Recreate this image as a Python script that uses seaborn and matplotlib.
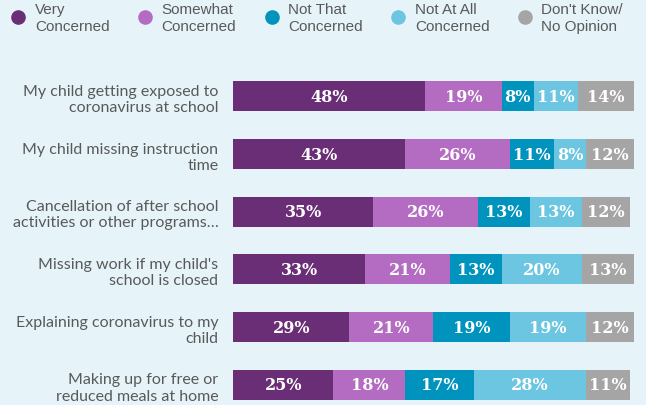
import matplotlib
matplotlib.use("Agg")
import matplotlib.pyplot as plt
import seaborn as sns
import pandas as pd
from matplotlib.lines import Line2D

categories = [
    "My child getting exposed to\ncoronavirus at school",
    "My child missing instruction\ntime",
    "Cancellation of after school\nactivities or other programs…",
    "Missing work if my child's\nschool is closed",
    "Explaining coronavirus to my\nchild",
    "Making up for free or\nreduced meals at home",
]
series_names = ["Very\nConcerned", "Somewhat\nConcerned", "Not That\nConcerned",
                "Not At All\nConcerned", "Don't Know/\nNo Opinion"]
very = [48, 43, 35, 33, 29, 25]
somewhat = [19, 26, 26, 21, 21, 18]
not_that = [8, 11, 13, 13, 19, 17]
not_at_all = [11, 8, 13, 20, 19, 28]
dont_know = [14, 12, 12, 13, 12, 11]
colors = ["#6A2E76", "#B46CC3", "#0093BE", "#6CC6E1", "#A5A5A5"]

bg = "#E6F4FA"
sns.set_style("white")
fig = plt.figure(figsize=(6.46, 4.06), dpi=100, facecolor=bg)
ax = fig.add_axes([0.3607, 0.0, 0.6207, 0.8325])
ax.set_facecolor(bg)

series = [very, somewhat, not_that, not_at_all, dont_know]
left = [0] * len(categories)
for name, vals, col in zip(series_names, series, colors):
    df = pd.DataFrame({"cat": categories, "val": vals})
    sns.barplot(data=df, x="val", y="cat", orient="h", color=col, width=0.52,
                left=left, ax=ax, saturation=1, linewidth=0, errorbar=None)
    cont = ax.containers[-1]
    ax.bar_label(cont, labels=[f"{v}%" for v in vals], label_type="center",
                 color="white", fontsize=11.5, fontweight="bold",
                 family="DejaVu Serif")
    left = [a + b for a, b in zip(left, vals)]

ax.set_xlim(0, 100)
ax.set_ylim(5.35, -0.51)
ax.set_xlabel("")
ax.set_ylabel("")
ax.set_xticks([])
ax.tick_params(axis="y", length=0, pad=10.5, labelsize=11.5, labelcolor="#595959")
for lab in ax.get_yticklabels():
    lab.set_family("Lato")
    lab.set_linespacing(1.2)
for s in ax.spines.values():
    s.set_visible(False)

handles = [Line2D([0], [0], marker="o", linestyle="", markersize=9.5,
                  markerfacecolor=c, markeredgecolor=c) for c in colors]
leg = fig.legend(handles, series_names, ncol=5, loc="upper left",
                 bbox_to_anchor=(0.0166, 0.993), frameon=False,
                 prop={"family": "Liberation Sans", "size": 11},
                 handletextpad=0.6, columnspacing=1.8, handlelength=1.0,
                 borderpad=0, borderaxespad=0, labelspacing=0.2,
                 labelcolor="#595959")
for t in leg.get_texts():
    t.set_linespacing(1.25)

fig.savefig("out.png", dpi=100, facecolor=bg)
